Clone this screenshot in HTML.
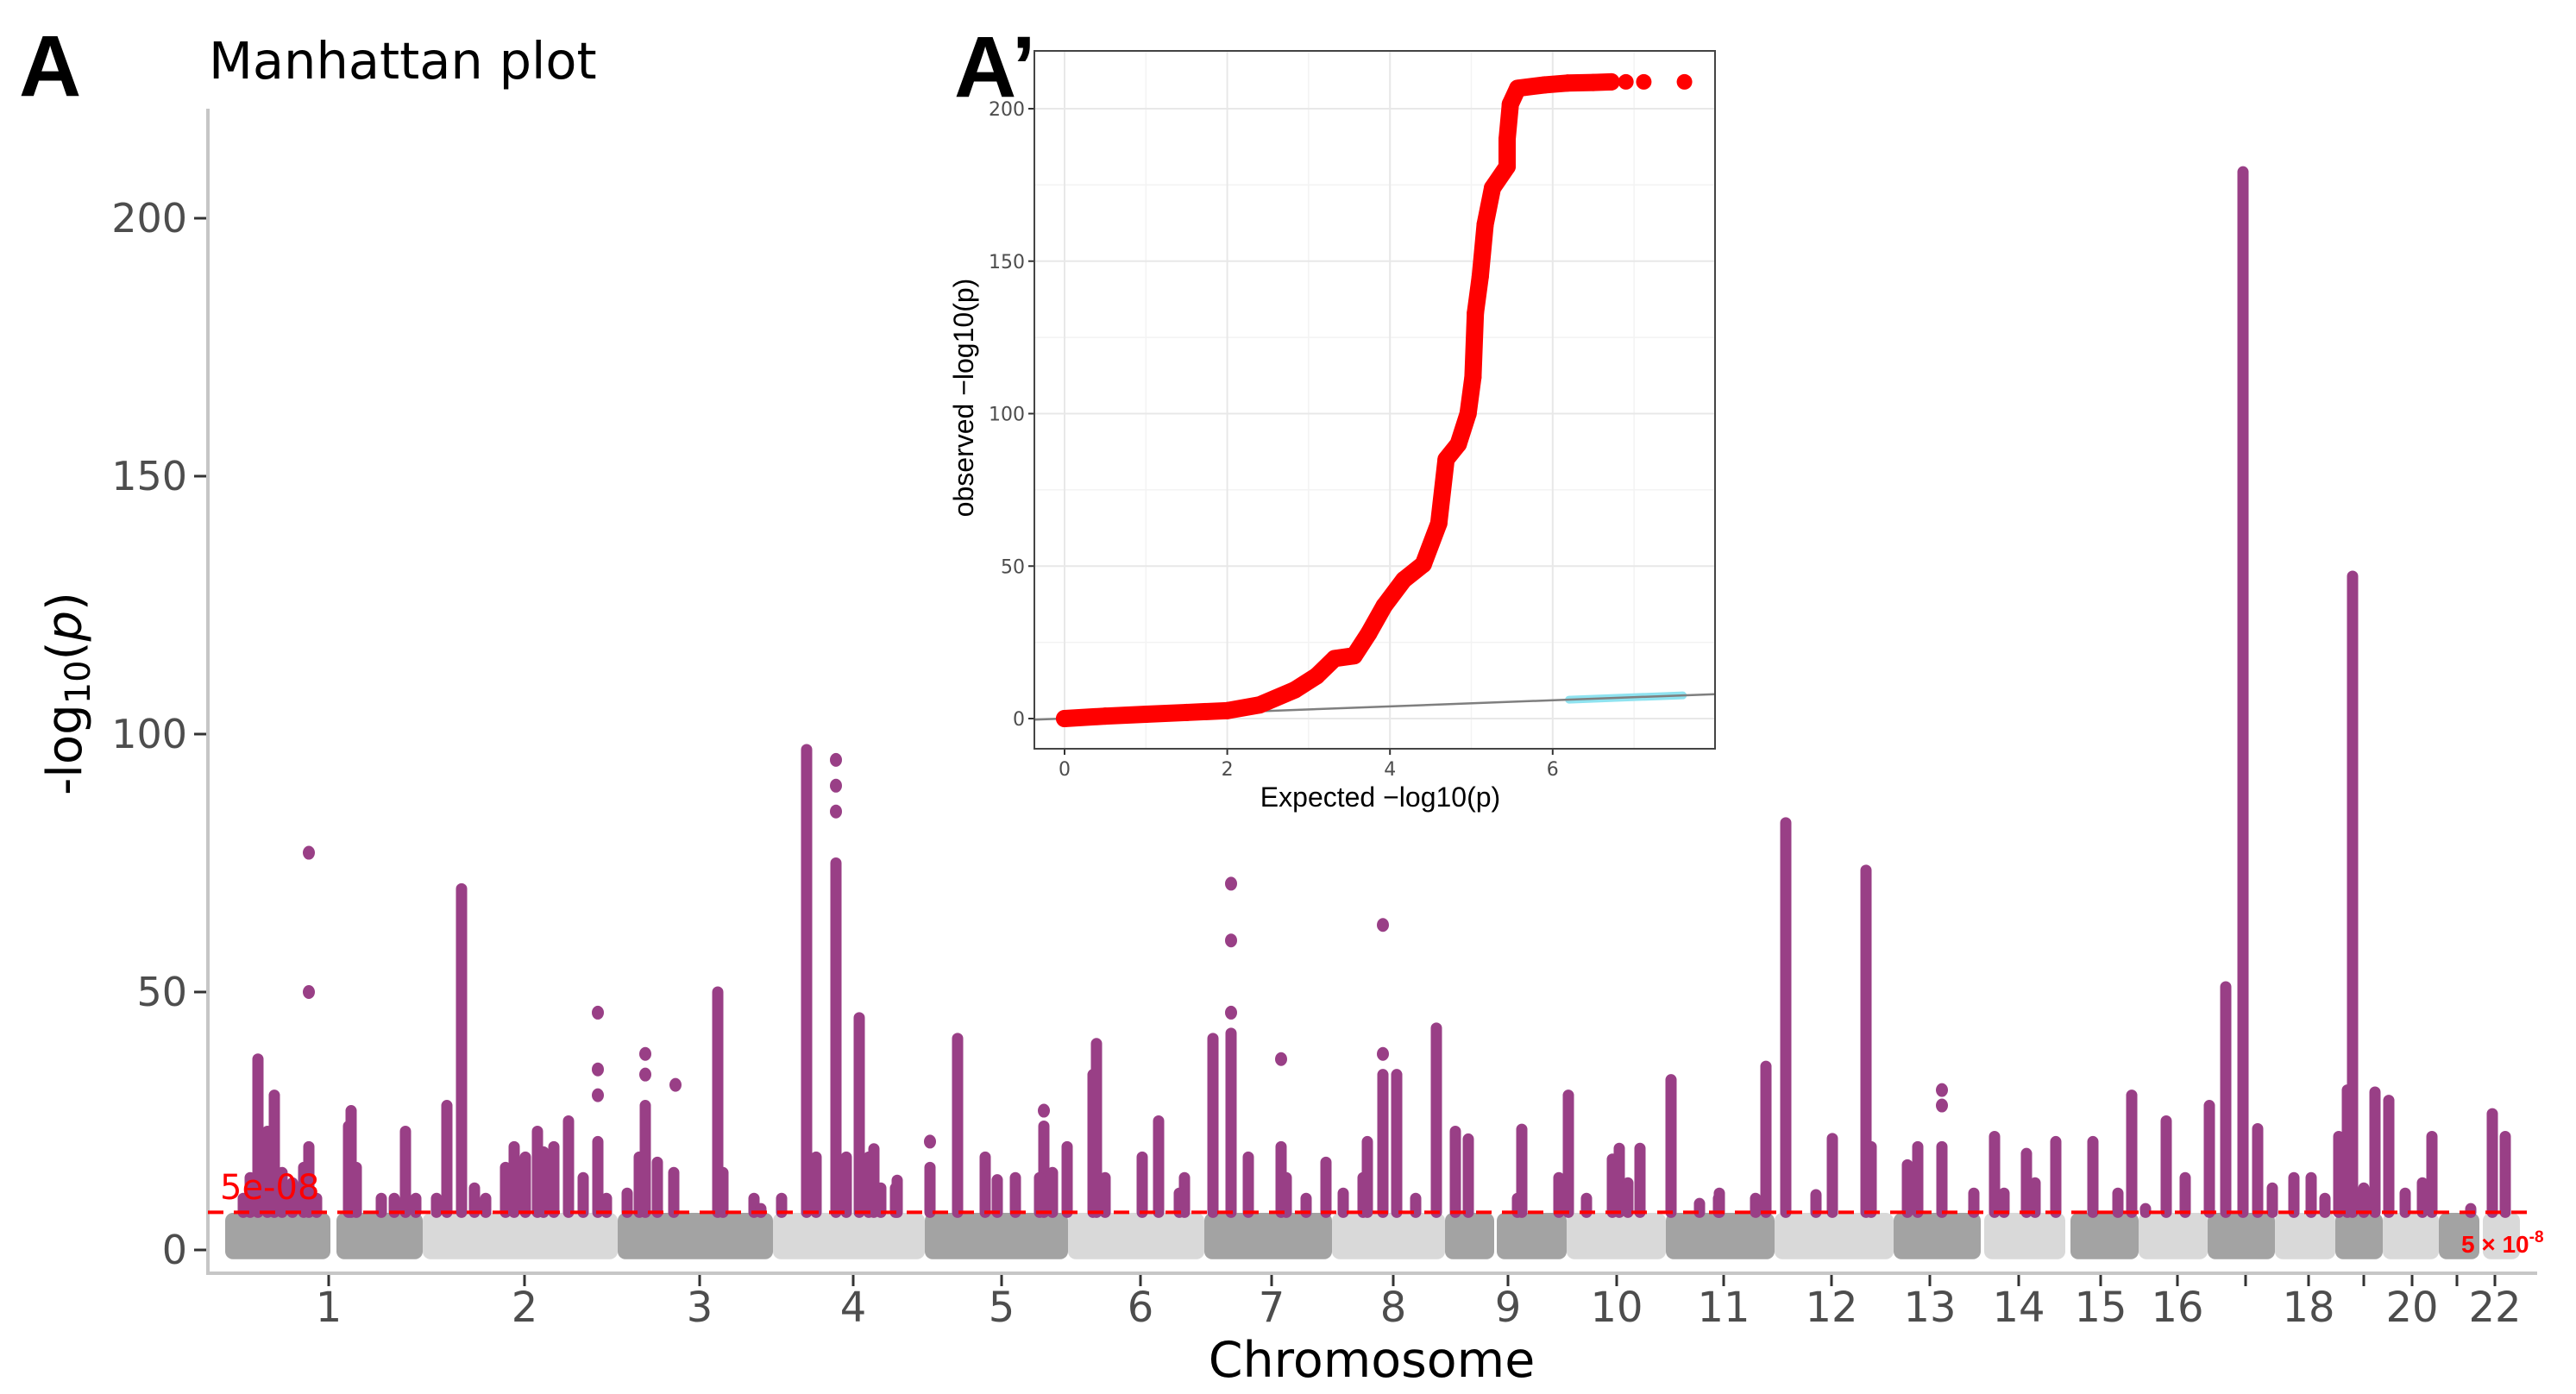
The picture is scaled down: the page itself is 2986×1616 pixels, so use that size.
<!DOCTYPE html>
<html><head><meta charset="utf-8">
<style>
html,body{margin:0;padding:0;background:#fff;}
svg{display:block;}
text{font-family:"DejaVu Sans","Liberation Sans",sans-serif;}
</style></head>
<body>
<svg id="chart" width="2986" height="1616" viewBox="0 0 2986 1616" xmlns="http://www.w3.org/2000/svg">
  <rect width="2986" height="1616" fill="#fff"/>
  <text x="22" y="111" font-size="100" font-weight="bold" fill="#000" style="font-family:'Liberation Sans',sans-serif">A</text>
  <text x="242" y="91" font-size="59" fill="#000">Manhattan plot</text>
  <g id="manhattan"></g>
  <text transform="translate(94,804) rotate(-90)" text-anchor="middle" font-size="56" fill="#000">-log<tspan font-size="40" dy="10">10</tspan><tspan dy="-10">(</tspan><tspan font-style="italic">p</tspan>)</text>
  <text x="1590" y="1596" text-anchor="middle" font-size="57" fill="#000">Chromosome</text>
  <text x="255" y="1390" font-size="40" fill="#ff0000">5e-08</text>
  <text x="2853" y="1452" font-size="28" font-weight="bold" fill="#ff0000" style="font-family:'Liberation Sans',sans-serif">5 × 10<tspan font-size="19" dy="-12">-8</tspan></text>
  <g id="qq"></g>
  <text x="1106" y="112" font-size="100" font-weight="bold" fill="#000" style="font-family:'Liberation Sans',sans-serif">A’</text>
</svg>
<script>
// ---------- Manhattan data ----------
const blockStart=[20,149,249,475,655,831,997,1155,1303,1434,1494,1575,1690,1816,1954,2059,2159,2238,2318,2396,2466,2521,2586,2637];
const blockEnd=[142,249,475,655,831,997,1155,1303,1434,1491,1575,1690,1816,1954,2055,2153,2238,2318,2396,2466,2521,2586,2633,2680];
const blockShade=["d","d","l","d","l","d","l","d","l","d","d","l","d","l","d","l","d","l","d","l","d","l","d","l"];
const tickPos=[140,367,570,748,920,1081,1233,1374,1507,1633,1757,1882,1996,2099,2194,2283,2362,2435,2499,2555,2607,2651];
const tickLabels=["1","2","3","4","5","6","7","8","9","10","11","12","13","14","15","16","","18","","20","","22"];
const yTicks=[0,50,100,150,200];
const peakPos=[58,69,77,86,98,111,117,41,126,49,163,166,172,201,216,229,241,265,277,294,309,322,345,355,368,382,389,401,418,435,452,462,486,500,507,521,540,591,597,633,641,665,694,705,728,740,755,766,780,797,772,799,837,869,901,915,936,969,979,996,964,1026,1030,1040,1083,1102,1132,1126,1165,1186,1206,1244,1250,1273,1296,1316,1344,1339,1362,1378,1400,1424,1446,1461,1523,1518,1566,1577,1598,1628,1636,1646,1660,1696,1729,1751,1752,1794,1806,1829,1864,1883,1922,1928,1970,1982,2010,2047,2071,2082,2108,2118,2142,2185,2214,2230,2246,2270,2292,2320,2339,2359,2376,2393,2418,2438,2454,2470,2480,2486,2512,2528,2499,2547,2578,2567,2623,2648,2663];
const peakTop=[37,23,30,15,13,16,20,10,10,14,24,27,16,10,10,23,10,10,28,70,12,10,16,20,18,23,19,20,25,14,21,10,11,18,28,17,15,50,15,10,8,10,97,18,75,18,45,18,12,12,19.6,13.5,16,41,18,13.6,14,24,15,20,14,34,40,14,18,25,14,11,41,42,18,20,14,10,17,11,21,14,34,34,10,43,23,21.5,23.4,10,14,30,10,17.6,19.7,13,19.7,33,9,10,11,10,35.6,82.8,10.7,21.6,73.6,20,16.5,20,20,11,22,11,18.7,13,21,21,11,30,8,25,14,28,51,209,23.5,12,14,14,10,22,31,130.6,30.6,29,12,11,22,13,8,26.4,22];
const extraPos=[117,117,452,452,452,507,507,542,728,728,728,837,969,1186,1186,1186,1244,1362,1362,2010,2010];
const extraVal=[77,50,46,35,30,38,34,32,95,90,85,21,27,71,60,46,37,63,38,31,28];
const threshold=7.3;

// ---------- QQ data ----------
const qqExpected=[0,0.5,1,1.5,2,2.4,2.83,3.1,3.32,3.56,3.74,3.93,4.17,4.41,4.6,4.69,4.84,4.96,5.02,5.05,5.11,5.17,5.26,5.44,5.44,5.48,5.57,5.9,6.18,6.5,6.72];
const qqObserved=[0,0.8,1.4,2,2.6,4.5,9.4,14,19.7,20.6,28,37,45.5,50.6,64,85,90,100,112,133,145,162,174,181,190,201.5,206.7,207.8,208.4,208.6,208.8];
const qqIsoExpected=[6.9,7.12,7.62];
const qqIsoObserved=[208.8,208.8,208.8];
const qqXTicks=[0,2,4,6];
const qqYTicks=[0,50,100,150,200];

const NS="http://www.w3.org/2000/svg";
function mk(tag,attrs,parent){const e=document.createElementNS(NS,tag);for(const k in attrs)e.setAttribute(k,attrs[k]);parent.appendChild(e);return e;}

const xS=u=>241+u*(2700/2700);
const yS=v=>1449-v*5.98;
const mg=document.getElementById('manhattan');

const yAxis=mk('line',{x1:241,y1:126,x2:241,y2:1476,stroke:'#c6c6c6','stroke-width':4},mg);


const xAxis=mk('line',{x1:239,y1:1476,x2:2941,y2:1476,stroke:'#c6c6c6','stroke-width':4},mg);



yTicks.forEach(v=>{
  const t=mk('line',{x1:225,x2:239,y1:yS(v),y2:yS(v),stroke:'#333','stroke-width':3},mg);
  
  
  const l=mk('text',{x:217,y:yS(v)+16,'text-anchor':'end','font-size':46,fill:'#4d4d4d'},mg);
  l.textContent=v;
  
  
});
tickPos.forEach((u,i)=>{
  const t=mk('line',{x1:xS(u),x2:xS(u),y1:1478,y2:1491,stroke:'#333','stroke-width':3},mg);
  
  
  if(tickLabels[i]){
    const l=mk('text',{x:xS(u),y:1532,'text-anchor':'middle','font-size':48,fill:'#4d4d4d'},mg);
    l.textContent=tickLabels[i];
    
    
  }
});

blockStart.forEach((s,i)=>{
  const r=mk('rect',{x:xS(s),y:yS(7.2),width:xS(blockEnd[i])-xS(s),height:yS(-1.8)-yS(7.2),rx:9,fill:blockShade[i]==='d'?'#a3a3a3':'#d9d9d9'},mg);
  
  
});

const purple='#993f86';
peakPos.forEach((u,i)=>{
  const p=mk('line',{x1:xS(u),x2:xS(u),y1:yS(threshold),y2:yS(peakTop[i]),stroke:purple,'stroke-width':13,'stroke-linecap':'round'},mg);
  
  
});
extraPos.forEach((u,i)=>{
  const c=mk('ellipse',{cx:xS(u),cy:yS(extraVal[i]),rx:7,ry:8,fill:purple},mg);
  
  
});
const th=mk('line',{x1:241,x2:2941,y1:yS(threshold),y2:yS(threshold),stroke:'#ff0000','stroke-width':4,'stroke-dasharray':'18 12'},mg);



const qg=document.getElementById('qq');
const qx=v=>1234+v*94.3;
const qy=v=>833-v*3.535;
const bg=mk('rect',{x:1199,y:59,width:789,height:809,fill:'#fff'},qg);


[1,3,5,7].forEach(v=>{const g=mk('line',{x1:qx(v),x2:qx(v),y1:59,y2:868,stroke:'#f3f3f3','stroke-width':1.5},qg);
  
  });
[25,75,125,175].forEach(v=>{const g=mk('line',{x1:1199,x2:1988,y1:qy(v),y2:qy(v),stroke:'#f3f3f3','stroke-width':1.5},qg);
  
  });
qqXTicks.forEach(v=>{
  const g=mk('line',{x1:qx(v),x2:qx(v),y1:59,y2:868,stroke:'#e8e8e8','stroke-width':2},qg);
  
  
  const t=mk('line',{x1:qx(v),x2:qx(v),y1:868,y2:875,stroke:'#333','stroke-width':2},qg);
  
  
  const l=mk('text',{x:qx(v),y:899,'text-anchor':'middle','font-size':22,fill:'#4d4d4d'},qg);
  l.textContent=v;
  
  
});
qqYTicks.forEach(v=>{
  const g=mk('line',{x1:1199,x2:1988,y1:qy(v),y2:qy(v),stroke:'#e8e8e8','stroke-width':2},qg);
  
  
  const t=mk('line',{x1:1192,x2:1199,y1:qy(v),y2:qy(v),stroke:'#333','stroke-width':2},qg);
  
  
  const l=mk('text',{x:1188,y:qy(v)+8,'text-anchor':'end','font-size':22,fill:'#4d4d4d'},qg);
  l.textContent=v;
  
  
});
const band=mk('line',{x1:qx(6.2),y1:qy(6.2),x2:qx(7.6),y2:qy(7.6),stroke:'#8fe3f0','stroke-width':9,'stroke-linecap':'round'},qg);


const diag=mk('line',{x1:1199,y1:qy(-0.37),x2:1988,y2:qy(8.0),stroke:'#7f7f7f','stroke-width':2.5},qg);


const pts=qqExpected.map((e,i)=>qx(e)+','+qy(qqObserved[i])).join(' ');
const curve=mk('polyline',{points:pts,fill:'none',stroke:'#ff0000','stroke-width':20,'stroke-linecap':'round','stroke-linejoin':'round'},qg);


qqExpected.forEach((e,i)=>{
  const c=mk('circle',{cx:qx(e),cy:qy(qqObserved[i]),r:10,fill:'#ff0000'},qg);
  
  
});
qqIsoExpected.forEach((e,i)=>{
  const c=mk('circle',{cx:qx(e),cy:qy(qqIsoObserved[i]),r:9,fill:'#ff0000'},qg);
  
  
});
const border=mk('rect',{x:1199,y:59,width:789,height:809,fill:'none',stroke:'#444','stroke-width':2},qg);


const qxt=mk('text',{x:1600,y:935,'text-anchor':'middle','font-size':32,fill:'#000',style:"font-family:'Liberation Sans',sans-serif"},qg);
qxt.textContent='Expected −log10(p)';


const qyt=mk('text',{transform:'translate(1128,461) rotate(-90)','text-anchor':'middle','font-size':32,fill:'#000',style:"font-family:'Liberation Sans',sans-serif"},qg);
qyt.textContent='observed −log10(p)';


</script>
</body></html>
